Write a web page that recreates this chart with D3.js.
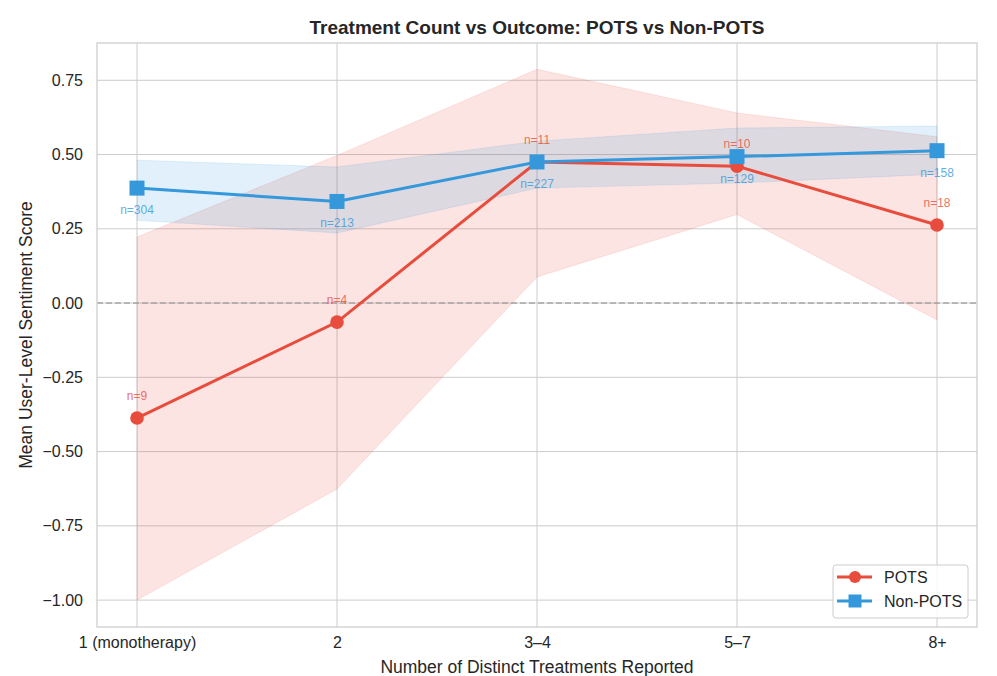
<!DOCTYPE html>
<html>
<head>
<meta charset="utf-8">
<script src="https://cdn.jsdelivr.net/npm/d3@7"></script>
<style>
  body { margin: 0; background: #fff; }
  svg text { font-family: "Liberation Sans", Arial, sans-serif; fill: #262626; }
</style>
</head>
<body>
<div id="chart"></div>
<script>
// categories and values
const categories = ["1 (monotherapy)", "2", "3\u20134", "5\u20137", "8+"];
const potsMean  = [-0.387, -0.064, 0.475, 0.461, 0.263];
const potsLow   = [-1.0, -0.626, 0.088, 0.298, -0.057];
const potsHigh  = [0.222, 0.497, 0.787, 0.64, 0.56];
const potsN     = [9, 4, 11, 10, 18];
const nonMean   = [0.387, 0.342, 0.475, 0.493, 0.513];
const nonLow    = [0.279, 0.236, 0.387, 0.404, 0.434];
const nonHigh   = [0.481, 0.458, 0.545, 0.589, 0.596];
const nonN      = [304, 213, 227, 129, 158];
const yTicks    = [-1.0, -0.75, -0.5, -0.25, 0, 0.25, 0.5, 0.75];

const RED = "#e74c3c", BLUE = "#3498db";

const width = 997, height = 676;
const margin = { top: 43, right: 20, bottom: 49, left: 97 };
const innerW = 977 - margin.left;
const innerH = 627 - margin.top;

const svg = d3.select("#chart").append("svg")
    .attr("width", width)
    .attr("height", height);

const g = svg.append("g")
    .attr("transform", `translate(${margin.left},${margin.top})`);

const x = d3.scaleLinear().domain([-0.2, 4.2]).range([0, innerW]);
const y = d3.scaleLinear().domain([-1.0905, 0.8755]).range([innerH, 0]);

// grid
g.append("g").selectAll("line.h").data(yTicks).join("line")
    .attr("x1", 0).attr("x2", innerW)
    .attr("y1", d => y(d)).attr("y2", d => y(d))
    .attr("stroke", "#cccccc").attr("stroke-width", 1);
g.append("g").selectAll("line.v").data(categories).join("line")
    .attr("x1", (d, i) => x(i)).attr("x2", (d, i) => x(i))
    .attr("y1", 0).attr("y2", innerH)
    .attr("stroke", "#cccccc").attr("stroke-width", 1);

// axes
const yAxis = d3.axisLeft(y).tickValues(yTicks)
    .tickFormat(d => d3.format(".2f")(d).replace("-", "\u2212"))
    .tickSize(0).tickPadding(14);
g.append("g").call(yAxis)
    .call(a => a.select(".domain").remove())
    .selectAll("text").style("font-size", "16px").attr("fill", "#262626");

const xAxis = d3.axisBottom(x).tickValues(d3.range(categories.length))
    .tickFormat(i => categories[i]).tickSize(0).tickPadding(10);
g.append("g").attr("transform", `translate(0,${innerH})`).call(xAxis)
    .call(a => a.select(".domain").remove())
    .selectAll("text").style("font-size", "16px").attr("fill", "#262626");

// bands
const idx = d3.range(categories.length);
const area = (lo, hi) => d3.area()
    .x(i => x(i)).y0(i => y(lo[i])).y1(i => y(hi[i]));

g.append("path").datum(idx)
    .attr("d", area(potsLow, potsHigh))
    .attr("fill", RED).attr("fill-opacity", 0.15)
    .attr("stroke", RED).attr("stroke-opacity", 0.12);
g.append("path").datum(idx)
    .attr("d", area(nonLow, nonHigh))
    .attr("fill", BLUE).attr("fill-opacity", 0.15)
    .attr("stroke", BLUE).attr("stroke-opacity", 0.12);

// zero line
g.append("line")
    .attr("x1", 0).attr("x2", innerW)
    .attr("y1", y(0)).attr("y2", y(0))
    .attr("stroke", "#999").attr("stroke-opacity", 0.8)
    .attr("stroke-width", 1.5).attr("stroke-dasharray", "6,3");

// lines
const line = vals => d3.line().x(i => x(i)).y(i => y(vals[i]));

g.append("path").datum(idx)
    .attr("d", line(potsMean))
    .attr("fill", "none").attr("stroke", RED).attr("stroke-width", 3);
g.selectAll("circle.pots").data(idx).join("circle")
    .attr("cx", i => x(i)).attr("cy", i => y(potsMean[i]))
    .attr("r", 6.8).attr("fill", RED);

g.append("path").datum(idx)
    .attr("d", line(nonMean))
    .attr("fill", "none").attr("stroke", BLUE).attr("stroke-width", 3);
g.selectAll("rect.non").data(idx).join("rect")
    .attr("x", i => x(i) - 7.5).attr("y", i => y(nonMean[i]) - 7.5)
    .attr("width", 15).attr("height", 15).attr("fill", BLUE);

// n labels
g.selectAll("text.np").data(idx).join("text")
    .attr("x", i => x(i)).attr("y", i => y(potsMean[i]) - 18)
    .attr("text-anchor", "middle")
    .style("font-size", "12px").style("fill", RED).style("fill-opacity", 0.8)
    .text(i => "n=" + potsN[i]);
g.selectAll("text.nn").data(idx).join("text")
    .attr("x", i => x(i)).attr("y", i => y(nonMean[i]) + 26)
    .attr("text-anchor", "middle")
    .style("font-size", "12px").style("fill", BLUE).style("fill-opacity", 0.8)
    .text(i => "n=" + nonN[i]);

// frame
g.append("rect").attr("width", innerW).attr("height", innerH)
    .attr("fill", "none").attr("stroke", "#cccccc").attr("stroke-width", 1.25);

// titles
svg.append("text")
    .attr("x", margin.left + innerW / 2).attr("y", 34)
    .attr("text-anchor", "middle")
    .style("font-size", "19px").style("font-weight", "bold")
    .text("Treatment Count vs Outcome: POTS vs Non-POTS");
svg.append("text")
    .attr("x", margin.left + innerW / 2).attr("y", 673)
    .attr("text-anchor", "middle").style("font-size", "17.5px")
    .text("Number of Distinct Treatments Reported");
svg.append("text")
    .attr("transform", `translate(32,${margin.top + innerH / 2}) rotate(-90)`)
    .attr("text-anchor", "middle").style("font-size", "17.5px")
    .text("Mean User-Level Sentiment Score");

// legend
const leg = svg.append("g").attr("transform", "translate(833,565)");
leg.append("rect").attr("width", 135).attr("height", 53).attr("rx", 3)
    .attr("fill", "#fff").attr("fill-opacity", 0.85)
    .attr("stroke", "#cccccc");
const items = [
    { name: "POTS", color: RED, shape: "circle" },
    { name: "Non-POTS", color: BLUE, shape: "square" }
];
items.forEach((it, k) => {
    const row = leg.append("g").attr("transform", `translate(0,${12 + k * 24})`);
    row.append("line").attr("x1", 4).attr("x2", 39)
        .attr("stroke", it.color).attr("stroke-width", 3);
    if (it.shape === "circle") {
        row.append("circle").attr("cx", 22).attr("r", 6).attr("fill", it.color);
    } else {
        row.append("rect").attr("x", 15.5).attr("y", -6.5).attr("width", 13).attr("height", 13).attr("fill", it.color);
    }
    row.append("text").attr("x", 51).attr("y", 6)
        .style("font-size", "16px").text(it.name);
});
</script>
</body>
</html>
